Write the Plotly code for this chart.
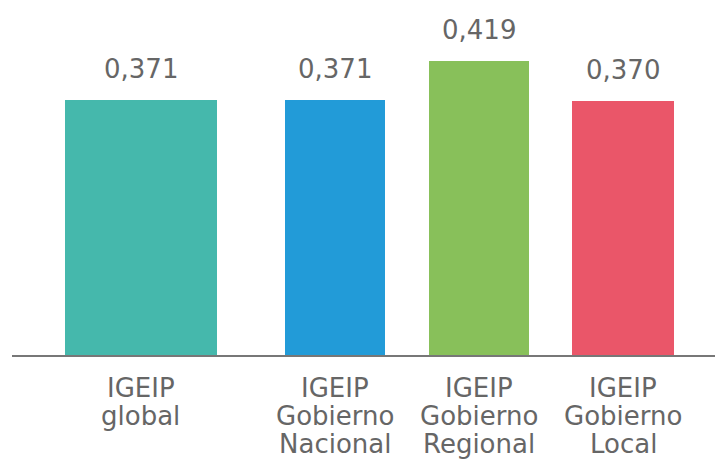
import plotly.graph_objects as go

# Data
categories = ["IGEIP global", "IGEIP Gobierno Nacional", "IGEIP Gobierno Regional", "IGEIP Gobierno Local"]
label_lines = [["IGEIP", "global"], ["IGEIP", "Gobierno", "Nacional"],
               ["IGEIP", "Gobierno", "Regional"], ["IGEIP", "Gobierno", "Local"]]
values = [0.371, 0.371, 0.419, 0.370]
value_labels = ["0,371", "0,371", "0,419", "0,370"]

# Layout / style
x_pos = [0, 1.35, 2.35, 3.35]
bar_widths = [1.055, 0.695, 0.697, 0.705]
colors = ["#45B8AC", "#229BD8", "#88C05A", "#EA5669"]
text_color = "#666666"
font_family = "DejaVu Sans"

fig = go.Figure()
fig.add_trace(go.Bar(
    x=x_pos, y=values, width=bar_widths,
    marker=dict(color=colors, line=dict(width=0)),
    hoverinfo="skip",
))

annotations = []
for xp, v, t in zip(x_pos, values, value_labels):
    annotations.append(dict(x=xp, y=v, xref="x", yref="y", text=t, showarrow=False,
                            yanchor="middle", yshift=31,
                            font=dict(family=font_family, size=26, color=text_color)))
line_shifts = [-33, -61, -88.5]
for xp, lines in zip(x_pos, label_lines):
    for i, ln in enumerate(lines):
        annotations.append(dict(x=xp, y=0, xref="x", yref="paper", text=ln, showarrow=False,
                                yanchor="middle", yshift=line_shifts[i],
                                font=dict(family=font_family, size=26, color=text_color)))

fig.update_layout(
    width=715, height=451,
    margin=dict(l=4, r=0, t=0, b=104),
    paper_bgcolor="white", plot_bgcolor="white",
    showlegend=False,
    bargap=0,
    annotations=annotations,
    xaxis=dict(range=[-0.894, 4.044], showgrid=False, zeroline=False,
               showticklabels=False, ticks="", showline=True,
               linecolor="#777777", linewidth=2),
    yaxis=dict(range=[0.0546, 0.4851], showgrid=False, zeroline=False,
               showticklabels=False, ticks="", showline=False),
)

fig.write_html("out.html")
